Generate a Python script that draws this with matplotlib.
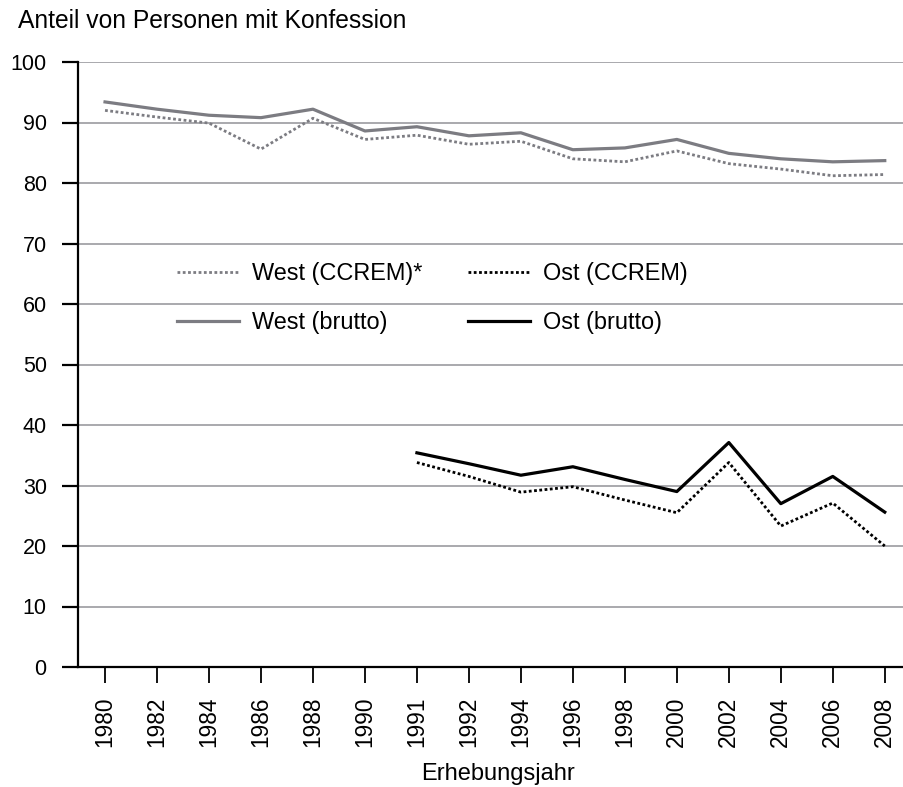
import matplotlib
matplotlib.use("Agg")
import matplotlib.pyplot as plt
import numpy as np

plt.rcParams['font.family'] = ['Liberation Sans', 'DejaVu Sans']

years = ['1980', '1982', '1984', '1986', '1988', '1990', '1991', '1992',
         '1994', '1996', '1998', '2000', '2002', '2004', '2006', '2008']
west_brutto = [93.4, 92.2, 91.2, 90.8, 92.2, 88.6, 89.3, 87.8,
               88.3, 85.5, 85.8, 87.2, 84.9, 84.0, 83.5, 83.7]
west_ccrem = [92.0, 90.9, 89.9, 85.6, 90.7, 87.2, 87.9, 86.4,
              86.9, 84.0, 83.5, 85.3, 83.2, 82.3, 81.2, 81.4]
# Ost starts in 1991
ost_years = years[6:]
ost_brutto = [35.4, 33.6, 31.7, 33.1, 31.0, 29.0, 37.1, 27.0, 31.5, 25.6]
ost_ccrem = [33.8, 31.5, 28.9, 29.8, 27.6, 25.5, 33.8, 23.3, 27.1, 20.0]
yticks = [0, 10, 20, 30, 40, 50, 60, 70, 80, 90, 100]

W, H = 904, 787
fig = plt.figure(figsize=(W / 100, H / 100), dpi=100)
ax = fig.add_axes([78 / W, 1 - 667 / H, 1 - 78 / W, (667 - 62) / H])

x = np.arange(len(years))
xo = np.arange(len(years) - len(ost_years), len(years))

gray = '#7c7c82'
dot = (0, (1, 0.9))
l1, = ax.plot(x, west_ccrem, color=gray, lw=2.0, linestyle=dot, label='West (CCREM)*')
l2, = ax.plot(x, west_brutto, color=gray, lw=2.3, label='West (brutto)')
l3, = ax.plot(xo, ost_ccrem, color='black', lw=2.0, linestyle=dot, label='Ost (CCREM)')
l4, = ax.plot(xo, ost_brutto, color='black', lw=2.3, label='Ost (brutto)')

ax.set_ylim(0, 100)
ax.set_xlim(-0.52, len(years) - 1 + 0.37)
ax.set_yticks(yticks)
ax.set_xticks(x)
ax.set_xticklabels(years, rotation=90)
ax.yaxis.grid(True, color='#a2a2a7', lw=1.3)
ax.set_axisbelow(True)

for s in ['top', 'right']:
    ax.spines[s].set_visible(False)
ax.spines['left'].set_linewidth(1.6)
ax.spines['bottom'].set_linewidth(1.6)
ax.tick_params(axis='y', length=11.5, width=1.6, pad=11, labelsize=15.5)
ax.tick_params(axis='x', length=11.5, width=1.3, pad=10, labelsize=16.3)

fig.text(498 / W, 1 - 774 / H, 'Erhebungsjahr', fontsize=17,
         ha='center', va='center')
fig.text(18 / W, 1 - 21 / H, 'Anteil von Personen mit Konfession', fontsize=17.7,
         ha='left', va='center')

leg = fig.legend(handles=[l1, l2, l3, l4], ncol=2, frameon=False,
                 loc='upper left', bbox_to_anchor=(177 / W, 1 - 262 / H),
                 fontsize=16.9, borderpad=0, borderaxespad=0, handlelength=2.65,
                 handletextpad=0.55, columnspacing=1.95, labelspacing=1.12)

fig.savefig('out.png', dpi=100)
